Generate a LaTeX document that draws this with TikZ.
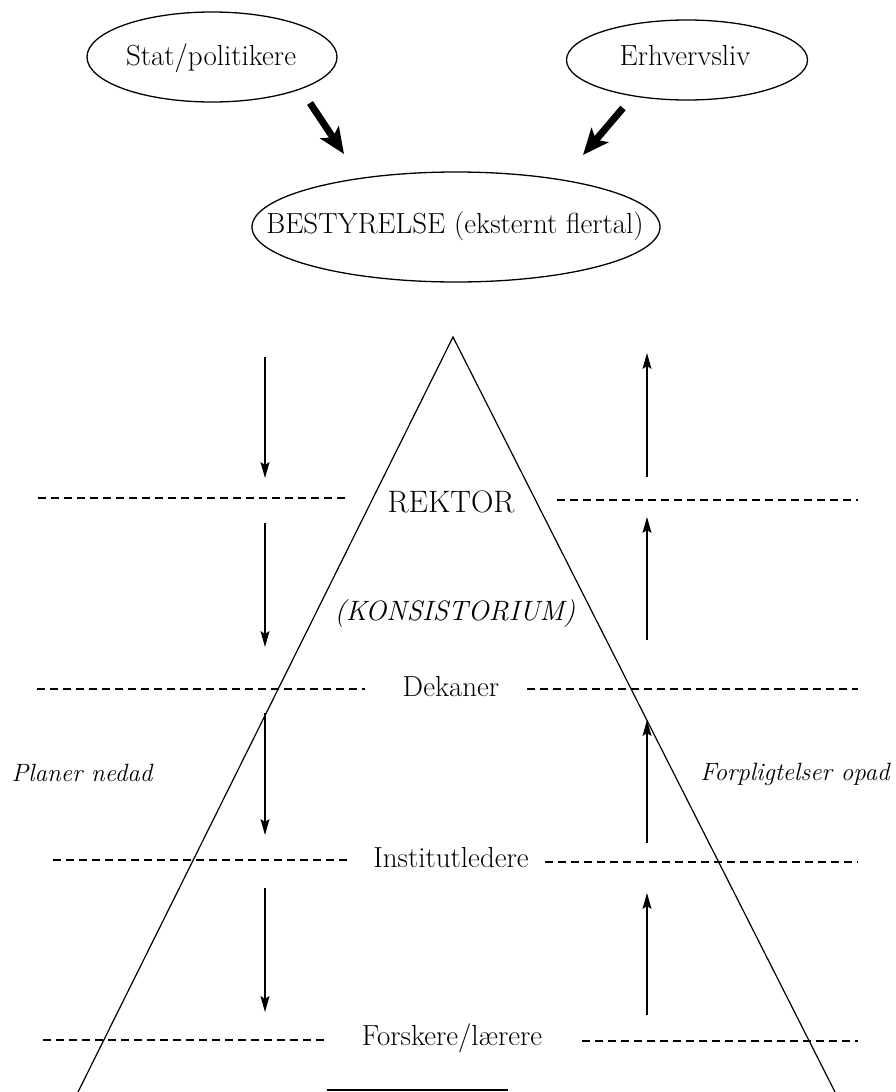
\documentclass[tikz,border=0pt]{standalone}
\usetikzlibrary{shapes.geometric,arrows.meta}
\begin{document}
\begin{tikzpicture}[x=1pt,y=-1pt,
  oval/.style={draw, ellipse, line width=1.3pt, inner sep=0pt},
  lbl/.style={font=\fontsize{29}{33}\selectfont, inner sep=0pt},
  sidelbl/.style={font=\fontsize{25}{29}\selectfont\itshape, inner sep=0pt},
  level/.style={dash pattern=on 8pt off 5pt, line width=2.4pt},
  thinarrow/.style={line width=1.1pt, -{Stealth[length=16pt,width=9pt,inset=3pt]}},
  bigarrow/.style={line width=7pt, -{Stealth[length=26pt,width=22pt,inset=6pt]}},
  edge/.style={line width=1.2pt}]
\useasboundingbox (0,0) rectangle (895,1092);

% top ellipses
\node[oval, minimum width=250pt, minimum height=90pt] (stat) at (212,57) {};
\node[lbl] (statt) at (211,58) {Stat/politikere};
\node[oval, minimum width=241pt, minimum height=80pt] (erh) at (687,60) {};
\node[lbl] (erht) at (685,56) {Erhvervsliv};
\node[oval, minimum width=408pt, minimum height=110pt] (best) at (456,227) {};
\node[lbl] (bestt) at (455,226) {BESTYRELSE (eksternt flertal)};

% thick arrows
\coordinate (a1s) at (310,103);
\coordinate (a1e) at (344,154);
\coordinate (a2s) at (623,108);
\coordinate (a2e) at (583,155);
\draw[bigarrow] (a1s) -- (a1e);
\draw[bigarrow] (a2s) -- (a2e);

% triangle
\coordinate (apex) at (453,337);
\coordinate (bl) at (78,1092);
\coordinate (br) at (835,1092);
\draw[edge] (bl) -- (apex) -- (br);

% level labels
\node[lbl, font=\fontsize{31}{35}\selectfont] (rektor) at (451,502) {REKTOR};
\node[lbl, font=\fontsize{28}{32}\selectfont\itshape] (kons) at (455,614) {(KONSISTORIUM)};
\node[lbl] (dekaner) at (451,687) {Dekaner};
\node[lbl] (inst) at (451,858) {Institutledere};
\node[lbl] (forsk) at (452,1038) {Forskere/lærere};

% dashed levels
\draw[level] (38,498) -- (345,498);
\draw[level] (557,500) -- (858,500);
\draw[level] (37,689) -- (365,689);
\draw[level] (527,689) -- (858,689);
\draw[level] (53,860) -- (348,860);
\draw[level] (545,862) -- (858,862);
\draw[level] (43,1040) -- (325,1040);
\draw[level] (582,1041) -- (858,1041);

% side labels
\node[sidelbl] (planer) at (82,773) {Planer nedad};
\node[sidelbl] (forpl) at (795,774) {Forpligtelser opad};

% down arrows
\draw[thinarrow] (265,357) -- (265,478);
\draw[thinarrow] (265,523) -- (265,647);
\draw[thinarrow] (265,713) -- (265,835);
\draw[thinarrow] (265,888) -- (265,1012);

% up arrows
\draw[thinarrow] (647,477) -- (647,353);
\draw[thinarrow] (647,640) -- (647,517);
\draw[thinarrow] (647,843) -- (647,720);
\draw[thinarrow] (647,1015) -- (647,893);

% cut-off fragment at bottom
\draw[line width=2.5pt] (327,1090) -- (508,1090);
\end{tikzpicture}
\end{document}
